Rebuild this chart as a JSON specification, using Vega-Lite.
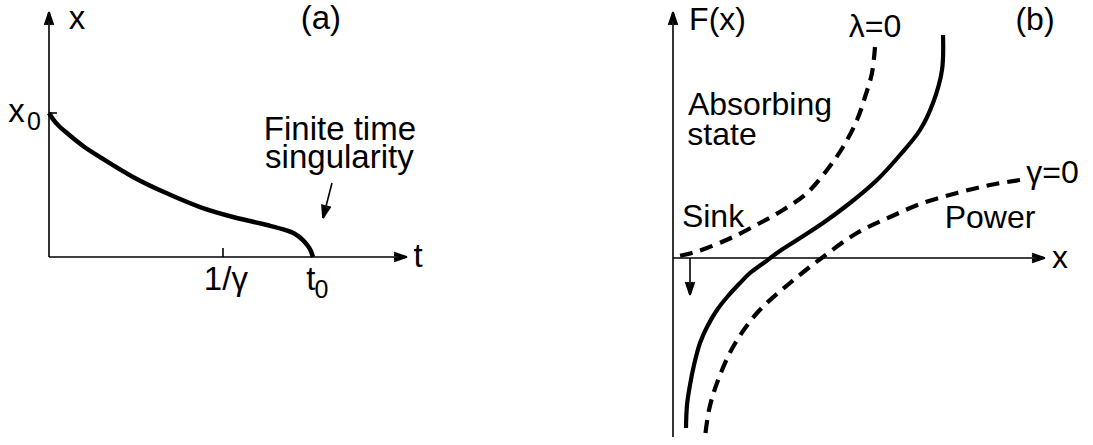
{
  "$schema": "https://vega.github.io/schema/vega-lite/v6.json",
  "padding": 0,
  "spacing": 200,
  "background": "white",
  "config": {"view": {"stroke": null}},
  "datasets": {
    "a_segments": [
      {"name": "y axis", "x": 0, "y": 0, "x2": 0, "y2": 1.7014},
      {"name": "t axis", "x": 0, "y": 0, "x2": 1.3561, "y2": 0},
      {"name": "x0 tick", "x": 0, "y": 1, "x2": 0.03, "y2": 1},
      {"name": "1/gamma tick", "x": 0.659, "y": 0, "x2": 0.659, "y2": 0.0625},
      {"name": "singularity arrow", "x": 1.072, "y": 0.5139, "x2": 1.0379, "y2": 0.2708},
      {"name": "y axis head", "x": 0, "y": 1.7014, "x2": -0.01705, "y2": 1.6111},
      {"name": "y axis head", "x": 0, "y": 1.7014, "x2": -0.01136, "y2": 1.6111},
      {"name": "y axis head", "x": 0, "y": 1.7014, "x2": -0.00568, "y2": 1.6111},
      {"name": "y axis head", "x": 0, "y": 1.7014, "x2": 0.00568, "y2": 1.6111},
      {"name": "y axis head", "x": 0, "y": 1.7014, "x2": 0.01136, "y2": 1.6111},
      {"name": "y axis head", "x": 0, "y": 1.7014, "x2": 0.01705, "y2": 1.6111},
      {"name": "t axis head", "x": 1.3561, "y": 0, "x2": 1.3068, "y2": -0.03125},
      {"name": "t axis head", "x": 1.3561, "y": 0, "x2": 1.3068, "y2": -0.02083},
      {"name": "t axis head", "x": 1.3561, "y": 0, "x2": 1.3068, "y2": -0.01042},
      {"name": "t axis head", "x": 1.3561, "y": 0, "x2": 1.3068, "y2": 0.01042},
      {"name": "t axis head", "x": 1.3561, "y": 0, "x2": 1.3068, "y2": 0.02083},
      {"name": "t axis head", "x": 1.3561, "y": 0, "x2": 1.3068, "y2": 0.03125},
      {"name": "singularity head", "x": 1.0379, "y": 0.2708, "x2": 1.0336, "y2": 0.366},
      {"name": "singularity head", "x": 1.0379, "y": 0.2708, "x2": 1.0391, "y2": 0.3635},
      {"name": "singularity head", "x": 1.0379, "y": 0.2708, "x2": 1.0447, "y2": 0.3609},
      {"name": "singularity head", "x": 1.0379, "y": 0.2708, "x2": 1.0556, "y2": 0.3557},
      {"name": "singularity head", "x": 1.0379, "y": 0.2708, "x2": 1.0612, "y2": 0.3531},
      {"name": "singularity head", "x": 1.0379, "y": 0.2708, "x2": 1.0667, "y2": 0.3505}
    ],
    "a_curve": [
      {"i": 0, "t": 0, "x": 1.0},
      {"i": 1, "t": 0.015, "x": 0.958},
      {"i": 2, "t": 0.034, "x": 0.917},
      {"i": 3, "t": 0.068, "x": 0.861},
      {"i": 4, "t": 0.129, "x": 0.771},
      {"i": 5, "t": 0.193, "x": 0.694},
      {"i": 6, "t": 0.318, "x": 0.556},
      {"i": 7, "t": 0.444, "x": 0.444},
      {"i": 8, "t": 0.572, "x": 0.347},
      {"i": 9, "t": 0.697, "x": 0.278},
      {"i": 10, "t": 0.826, "x": 0.222},
      {"i": 11, "t": 0.894, "x": 0.188},
      {"i": 12, "t": 0.932, "x": 0.16},
      {"i": 13, "t": 0.962, "x": 0.118},
      {"i": 14, "t": 0.981, "x": 0.076},
      {"i": 15, "t": 0.992, "x": 0.042},
      {"i": 16, "t": 1.0, "x": 0.0}
    ],
    "a_text": [
      {"label": "x", "x": 0.106, "y": 1.583},
      {"label": "(a)", "x": 1.03, "y": 1.583},
      {"label": "x", "x": -0.123, "y": 0.9375},
      {"label": "1/γ", "x": 0.67, "y": -0.229},
      {"label": "t", "x": 0.992, "y": -0.229},
      {"label": "t", "x": 1.398, "y": -0.069},
      {"label": "Finite time", "x": 1.102, "y": 0.8125},
      {"label": "singularity", "x": 1.1, "y": 0.618}
    ],
    "a_sub": [
      {"label": "0", "x": -0.057, "y": 0.882},
      {"label": "0", "x": 1.032, "y": -0.285}
    ],
    "b_segments": [
      {"name": "F axis", "x": 0, "y": -1.79, "x2": 0, "y2": 2.46},
      {"name": "x axis", "x": 0, "y": 0, "x2": 3.72, "y2": 0},
      {"name": "sink arrow", "x": 0.17, "y": 0, "x2": 0.17, "y2": -0.37},
      {"name": "F axis head", "x": 0, "y": 2.46, "x2": -0.045, "y2": 2.33},
      {"name": "F axis head", "x": 0, "y": 2.46, "x2": -0.03, "y2": 2.33},
      {"name": "F axis head", "x": 0, "y": 2.46, "x2": -0.015, "y2": 2.33},
      {"name": "F axis head", "x": 0, "y": 2.46, "x2": 0.015, "y2": 2.33},
      {"name": "F axis head", "x": 0, "y": 2.46, "x2": 0.03, "y2": 2.33},
      {"name": "F axis head", "x": 0, "y": 2.46, "x2": 0.045, "y2": 2.33},
      {"name": "x axis head", "x": 3.72, "y": 0, "x2": 3.59, "y2": -0.045},
      {"name": "x axis head", "x": 3.72, "y": 0, "x2": 3.59, "y2": -0.03},
      {"name": "x axis head", "x": 3.72, "y": 0, "x2": 3.59, "y2": -0.015},
      {"name": "x axis head", "x": 3.72, "y": 0, "x2": 3.59, "y2": 0.015},
      {"name": "x axis head", "x": 3.72, "y": 0, "x2": 3.59, "y2": 0.03},
      {"name": "x axis head", "x": 3.72, "y": 0, "x2": 3.59, "y2": 0.045},
      {"name": "sink head", "x": 0.17, "y": -0.37, "x2": 0.125, "y2": -0.24},
      {"name": "sink head", "x": 0.17, "y": -0.37, "x2": 0.14, "y2": -0.24},
      {"name": "sink head", "x": 0.17, "y": -0.37, "x2": 0.155, "y2": -0.24},
      {"name": "sink head", "x": 0.17, "y": -0.37, "x2": 0.185, "y2": -0.24},
      {"name": "sink head", "x": 0.17, "y": -0.37, "x2": 0.2, "y2": -0.24},
      {"name": "sink head", "x": 0.17, "y": -0.37, "x2": 0.215, "y2": -0.24}
    ],
    "b_curves": [
      {"curve": "F", "i": 0, "x": 2.7, "y": 2.23},
      {"curve": "F", "i": 1, "x": 2.69, "y": 1.88},
      {"curve": "F", "i": 2, "x": 2.6, "y": 1.55},
      {"curve": "F", "i": 3, "x": 2.47, "y": 1.28},
      {"curve": "F", "i": 4, "x": 2.27, "y": 1.03},
      {"curve": "F", "i": 5, "x": 2.04, "y": 0.78},
      {"curve": "F", "i": 6, "x": 1.77, "y": 0.55},
      {"curve": "F", "i": 7, "x": 1.5, "y": 0.35},
      {"curve": "F", "i": 8, "x": 1.24, "y": 0.18},
      {"curve": "F", "i": 9, "x": 1.04, "y": 0.05},
      {"curve": "F", "i": 10, "x": 0.92, "y": -0.04},
      {"curve": "F", "i": 11, "x": 0.77, "y": -0.15},
      {"curve": "F", "i": 12, "x": 0.67, "y": -0.25},
      {"curve": "F", "i": 13, "x": 0.55, "y": -0.38},
      {"curve": "F", "i": 14, "x": 0.44, "y": -0.52},
      {"curve": "F", "i": 15, "x": 0.34, "y": -0.69},
      {"curve": "F", "i": 16, "x": 0.27, "y": -0.85},
      {"curve": "F", "i": 17, "x": 0.21, "y": -1.07},
      {"curve": "F", "i": 18, "x": 0.17, "y": -1.27},
      {"curve": "F", "i": 19, "x": 0.14, "y": -1.47},
      {"curve": "F", "i": 20, "x": 0.13, "y": -1.7},
      {"curve": "lambda=0", "i": 0, "x": 2.02, "y": 2.11},
      {"curve": "lambda=0", "i": 1, "x": 1.99, "y": 1.85},
      {"curve": "lambda=0", "i": 2, "x": 1.92, "y": 1.61},
      {"curve": "lambda=0", "i": 3, "x": 1.84, "y": 1.38},
      {"curve": "lambda=0", "i": 4, "x": 1.7, "y": 1.11},
      {"curve": "lambda=0", "i": 5, "x": 1.54, "y": 0.88},
      {"curve": "lambda=0", "i": 6, "x": 1.34, "y": 0.65},
      {"curve": "lambda=0", "i": 7, "x": 1.1, "y": 0.48},
      {"curve": "lambda=0", "i": 8, "x": 0.87, "y": 0.35},
      {"curve": "lambda=0", "i": 9, "x": 0.6, "y": 0.21},
      {"curve": "lambda=0", "i": 10, "x": 0.34, "y": 0.1},
      {"curve": "lambda=0", "i": 11, "x": 0.15, "y": 0.04},
      {"curve": "lambda=0", "i": 12, "x": 0.0, "y": 0.01},
      {"curve": "gamma=0", "i": 0, "x": 3.47, "y": 0.78},
      {"curve": "gamma=0", "i": 1, "x": 3.17, "y": 0.73},
      {"curve": "gamma=0", "i": 2, "x": 2.84, "y": 0.65},
      {"curve": "gamma=0", "i": 3, "x": 2.5, "y": 0.55},
      {"curve": "gamma=0", "i": 4, "x": 2.17, "y": 0.41},
      {"curve": "gamma=0", "i": 5, "x": 1.84, "y": 0.25},
      {"curve": "gamma=0", "i": 6, "x": 1.5, "y": 0.01},
      {"curve": "gamma=0", "i": 7, "x": 1.17, "y": -0.25},
      {"curve": "gamma=0", "i": 8, "x": 0.84, "y": -0.55},
      {"curve": "gamma=0", "i": 9, "x": 0.6, "y": -0.89},
      {"curve": "gamma=0", "i": 10, "x": 0.44, "y": -1.25},
      {"curve": "gamma=0", "i": 11, "x": 0.36, "y": -1.52},
      {"curve": "gamma=0", "i": 12, "x": 0.32, "y": -1.79}
    ],
    "b_text": [
      {"label": "F(x)", "x": 0.445, "y": 2.28},
      {"label": "λ=0", "x": 2.02, "y": 2.21},
      {"label": "(b)", "x": 3.62, "y": 2.28},
      {"label": "Absorbing", "x": 0.87, "y": 1.43},
      {"label": "state", "x": 0.49, "y": 1.13},
      {"label": "Sink", "x": 0.4, "y": 0.31},
      {"label": "Power", "x": 3.17, "y": 0.3},
      {"label": "γ=0", "x": 3.795, "y": 0.75},
      {"label": "x", "x": 3.87, "y": -0.1}
    ]
  },
  "hconcat": [
    {
      "width": 440,
      "height": 445,
      "layer": [
        {
          "data": {"name": "a_segments"},
          "mark": {"type": "rule", "color": "black", "strokeWidth": 1.6},
          "encoding": {
            "x": {"field": "x", "type": "quantitative", "axis": null, "scale": {"domain": [-0.1856, 1.4811], "nice": false, "zero": false}},
            "y": {"field": "y", "type": "quantitative", "axis": null, "scale": {"domain": [-1.3056, 1.7847], "nice": false, "zero": false}},
            "x2": {"field": "x2"},
            "y2": {"field": "y2"}
          }
        },
        {
          "data": {"name": "a_curve"},
          "mark": {"type": "line", "color": "black", "strokeWidth": 4.5, "interpolate": "catmull-rom", "strokeCap": "butt"},
          "encoding": {
            "x": {"field": "t", "type": "quantitative", "axis": null},
            "y": {"field": "x", "type": "quantitative", "axis": null},
            "order": {"field": "i", "type": "quantitative"}
          }
        },
        {
          "data": {"name": "a_text"},
          "mark": {"type": "text", "font": "Liberation Sans", "fontSize": 33, "color": "black", "align": "center", "baseline": "alphabetic"},
          "encoding": {
            "x": {"field": "x", "type": "quantitative", "axis": null},
            "y": {"field": "y", "type": "quantitative", "axis": null},
            "text": {"field": "label"}
          }
        },
        {
          "data": {"name": "a_sub"},
          "mark": {"type": "text", "font": "Liberation Sans", "fontSize": 25, "color": "black", "align": "center", "baseline": "alphabetic"},
          "encoding": {
            "x": {"field": "x", "type": "quantitative", "axis": null},
            "y": {"field": "y", "type": "quantitative", "axis": null},
            "text": {"field": "label"}
          }
        }
      ]
    },
    {
      "width": 453,
      "height": 445,
      "layer": [
        {
          "data": {"name": "b_segments"},
          "mark": {"type": "rule", "color": "black", "strokeWidth": 1.6},
          "encoding": {
            "x": {"field": "x", "type": "quantitative", "axis": null, "scale": {"domain": [-0.33, 4.2], "nice": false, "zero": false}},
            "y": {"field": "y", "type": "quantitative", "axis": null, "scale": {"domain": [-1.87, 2.58], "nice": false, "zero": false}},
            "x2": {"field": "x2"},
            "y2": {"field": "y2"}
          }
        },
        {
          "data": {"name": "b_curves"},
          "transform": [{"filter": "datum.curve == 'F'"}],
          "mark": {"type": "line", "color": "black", "strokeWidth": 4.2, "interpolate": "catmull-rom", "strokeCap": "butt"},
          "encoding": {
            "x": {"field": "x", "type": "quantitative", "axis": null},
            "y": {"field": "y", "type": "quantitative", "axis": null},
            "order": {"field": "i", "type": "quantitative"}
          }
        },
        {
          "data": {"name": "b_curves"},
          "transform": [{"filter": "datum.curve != 'F'"}],
          "mark": {"type": "line", "color": "black", "strokeWidth": 4.2, "strokeDash": [13, 8], "interpolate": "catmull-rom", "strokeCap": "butt"},
          "encoding": {
            "x": {"field": "x", "type": "quantitative", "axis": null},
            "y": {"field": "y", "type": "quantitative", "axis": null},
            "detail": {"field": "curve"},
            "order": {"field": "i", "type": "quantitative"}
          }
        },
        {
          "data": {"name": "b_text"},
          "mark": {"type": "text", "font": "Liberation Sans", "fontSize": 32, "color": "black", "align": "center", "baseline": "alphabetic"},
          "encoding": {
            "x": {"field": "x", "type": "quantitative", "axis": null},
            "y": {"field": "y", "type": "quantitative", "axis": null},
            "text": {"field": "label"}
          }
        }
      ]
    }
  ]
}
